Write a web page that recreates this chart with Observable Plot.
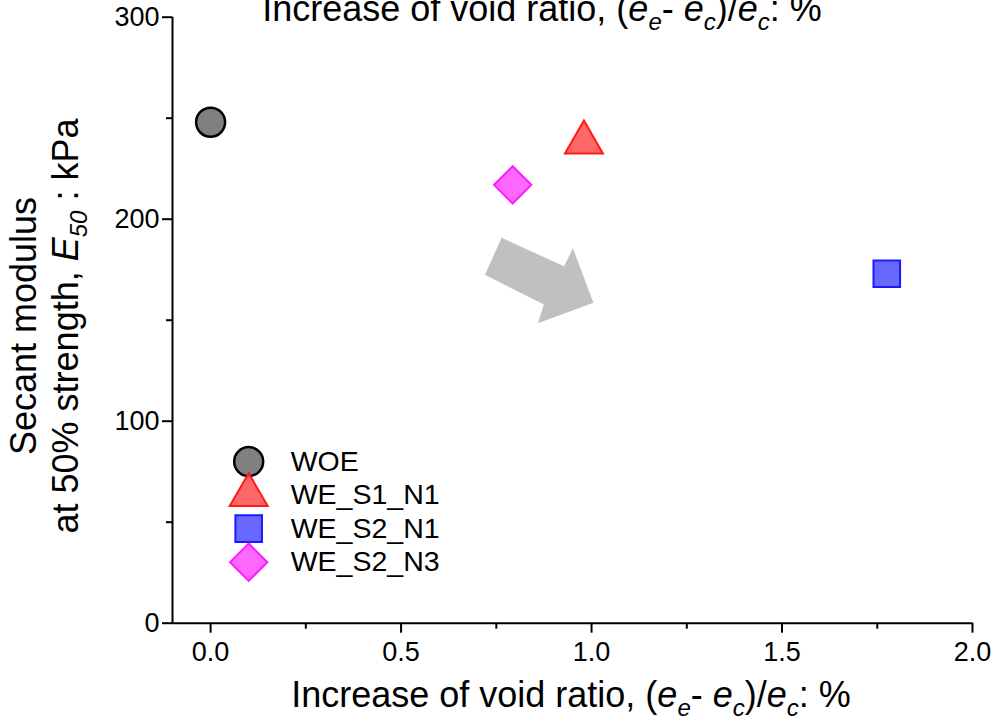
<!DOCTYPE html>
<html>
<head>
<meta charset="utf-8">
<script src="https://cdn.jsdelivr.net/npm/d3@7"></script>
<script src="https://cdn.jsdelivr.net/npm/@observablehq/plot@0.6"></script>
<style>
  html, body { margin: 0; padding: 0; background: white; }
  #chart svg { overflow: visible; display: block; }
</style>
</head>
<body>
<div id="chart"></div>
<script>
// ---- data ----
const series = ["WOE", "WE_S1_N1", "WE_S2_N1", "WE_S2_N3"];
const voidIncrease = [0.0, 0.98, 1.775, 0.793];      // (ee - ec)/ec : %
const secantModulus = [248, 238, 173, 217];           // E50 : kPa
const symbols = ["circle", "triangle", "square", "diamond2"];
const fills = ["#808080", "#ff4d4d", "#4d4dff", "#ff4dff"];
const strokes = ["#000000", "#ff1a1a", "#1a1aff", "#ff1aff"];
const radii = [14.5, 14.1, 15.0, 16.8];
const xTicks = [0, 0.5, 1.0, 1.5, 2.0];
const xMinor = [0.25, 0.75, 1.25, 1.75];
const yTicks = [0, 100, 200, 300];
const yMinor = [50, 150, 250];
// trend arrow outline (data coordinates)
const arrowX = [0.764, 0.928, 0.951, 1.005, 0.859, 0.875, 0.720];
const arrowY = [190.8, 176.7, 185.6, 158.6, 148.5, 157.8, 172.5];
// legend anchor (data coordinates)
const legendX = 0.1;
const legendTop = 80;
const legendStep = 16.6;

const points = series.map((s, i) => ({name: s, x: voidIncrease[i], y: secantModulus[i], i}));
const arrow = arrowX.map((x, i) => ({x, y: arrowY[i]}));
const legend = series.map((s, i) => ({name: s, x: legendX, y: legendTop - i * legendStep, i}));

const W = 1003, H = 718;
const font = "'Liberation Sans', Arial, sans-serif";

const dotMarks = [];
series.forEach((s, i) => {
  const opts = {x: "x", y: "y", r: radii[i], symbol: symbols[i],
    fill: fills[i], fillOpacity: i === 0 ? 1 : 0.85, stroke: strokes[i], strokeWidth: i === 0 ? 2.5 : 2};
  dotMarks.push(Plot.dot(points.filter(d => d.i === i), opts));
  dotMarks.push(Plot.dot(legend.filter(d => d.i === i), opts));
});

const plot = Plot.plot({
  width: W,
  height: H,
  marginLeft: 172,
  marginRight: 31,
  marginTop: 16.7,
  marginBottom: 95.3,
  style: {fontFamily: font, background: "white", overflow: "visible"},
  x: {domain: [-0.1, 2.0]},
  y: {domain: [0, 300]},
  marks: [
    Plot.line(arrow, {x: "x", y: "y", fill: "#c0c0c0", stroke: "none", curve: "linear-closed"}),
    Plot.axisX({ticks: xTicks, tickSize: 10, tickPadding: 9, strokeWidth: 2, fontSize: 27,
      tickFormat: d => d.toFixed(1), label: null, color: "black"}),
    Plot.axisX({ticks: xMinor, tickSize: 6, strokeWidth: 2, tickFormat: () => "", label: null}),
    Plot.axisY({ticks: yTicks, tickSize: 10, tickPadding: 3, strokeWidth: 2, fontSize: 27,
      tickFormat: d => String(d), label: null, color: "black"}),
    Plot.axisY({ticks: yMinor, tickSize: 6, strokeWidth: 2, tickFormat: () => "", label: null}),
    Plot.ruleX([-0.1], {stroke: "black", strokeWidth: 2}),
    Plot.ruleY([0], {stroke: "black", strokeWidth: 2}),
    ...dotMarks,
    Plot.text(legend, {x: "x", y: "y", text: "name", dx: 42, textAnchor: "start",
      fontSize: 28.5, fill: "black", fontFamily: font})
  ]
});

document.getElementById("chart").appendChild(plot);

// ---- axis titles with italic subscripts ----
const svg = d3.select(plot);
function xTitle(g) {
  const t = g.append("text").attr("text-anchor", "middle").attr("font-size", 36)
    .attr("font-family", font).attr("fill", "black");
  t.append("tspan").text("Increase of void ratio, (");
  t.append("tspan").attr("font-style", "italic").text("e");
  t.append("tspan").attr("font-style", "italic").attr("font-size", 24).attr("dy", 9).text("e");
  t.append("tspan").attr("dy", -9).text("- ");
  t.append("tspan").attr("font-style", "italic").text("e");
  t.append("tspan").attr("font-style", "italic").attr("font-size", 24).attr("dy", 9).text("c");
  t.append("tspan").attr("dy", -9).text(")/");
  t.append("tspan").attr("font-style", "italic").text("e");
  t.append("tspan").attr("font-style", "italic").attr("font-size", 24).attr("dy", 9).text("c");
  t.append("tspan").attr("dy", -9).text(": %");
  return t;
}
xTitle(svg.append("g").attr("transform", "translate(571,707)"));
xTitle(svg.append("g").attr("transform", "translate(542,21)"));

const yg = svg.append("g").attr("transform", "translate(0,326) rotate(-90)");
yg.append("text").attr("x", 0).attr("y", 36).attr("text-anchor", "middle")
  .attr("font-size", 36).attr("font-family", font).attr("fill", "black").text("Secant modulus");
const y2 = yg.append("text").attr("x", 0).attr("y", 78).attr("text-anchor", "middle")
  .attr("font-size", 36).attr("font-family", font).attr("fill", "black");
y2.append("tspan").text("at 50% strength, ");
y2.append("tspan").attr("font-style", "italic").text("E");
y2.append("tspan").attr("font-style", "italic").attr("font-size", 24).attr("dy", 9).text("50");
y2.append("tspan").attr("dy", -9).text(" : kPa");
</script>
</body>
</html>
